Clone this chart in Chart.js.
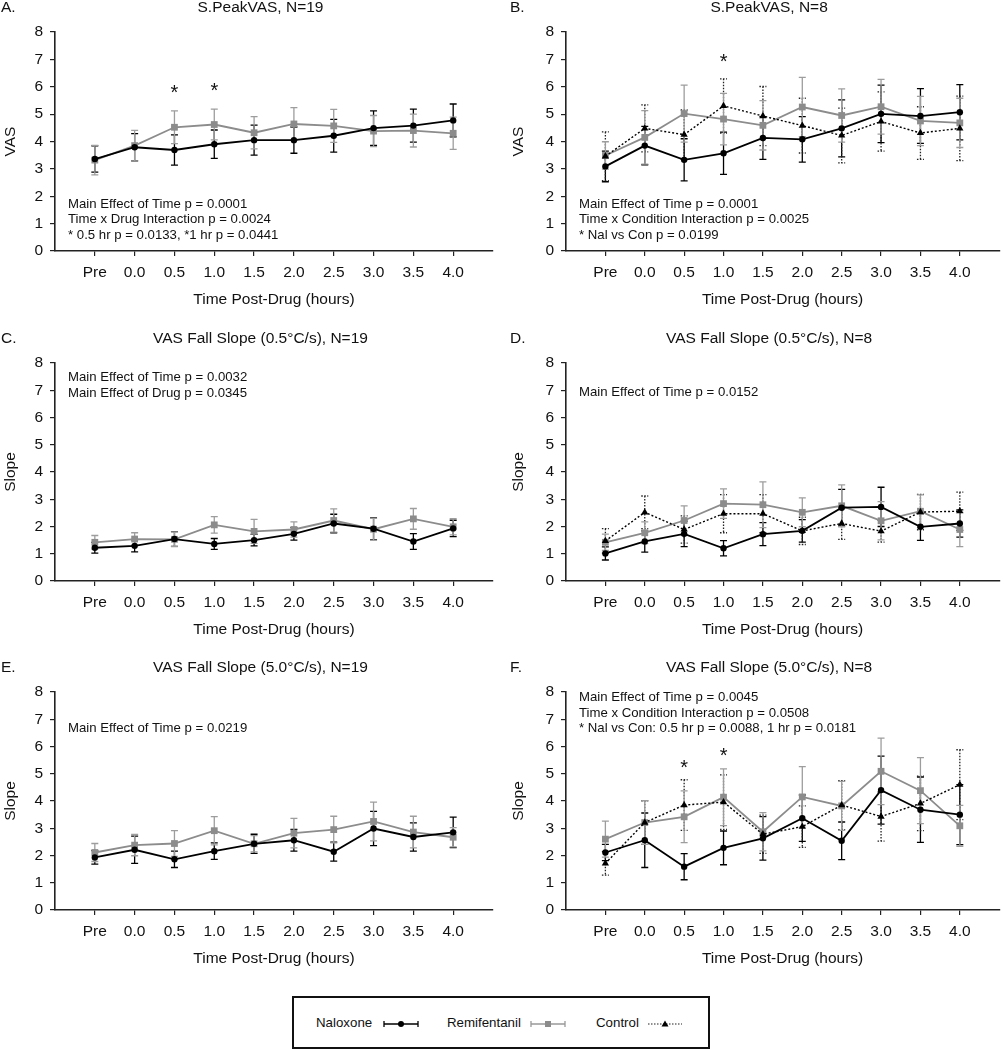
<!DOCTYPE html>
<html>
<head>
<meta charset="utf-8">
<script src="https://cdn.jsdelivr.net/npm/chart.js@4.4.1/dist/chart.umd.min.js"></script>
<style>
  body { margin: 0; background: #fff; width: 1004px; height: 1050px; position: relative; overflow: hidden;
         font-family: "Liberation Sans", Arial, sans-serif; }
  canvas.panel { position: absolute; }
  #legend { position: absolute; left: 292px; top: 996px; width: 418px; height: 53px; box-sizing: border-box;
            border: 2px solid #111; }
  #legend span { position: absolute; top: 17px; font-size: 13.3px; color: #111; line-height: 16px; }
  #legend svg { position: absolute; top: 21px; }
</style>
</head>
<body>
<canvas class="panel" id="pA" width="502" height="320" style="left:0;top:0"></canvas>
<canvas class="panel" id="pB" width="502" height="320" style="left:502px;top:0"></canvas>
<canvas class="panel" id="pC" width="502" height="330" style="left:0;top:320px"></canvas>
<canvas class="panel" id="pD" width="502" height="330" style="left:502px;top:320px"></canvas>
<canvas class="panel" id="pE" width="502" height="340" style="left:0;top:650px"></canvas>
<canvas class="panel" id="pF" width="502" height="340" style="left:502px;top:650px"></canvas>

<div id="legend">
  <span style="left:22px">Naloxone</span>
  <svg style="left:89px" width="36" height="10">
    <line x1="1" y1="5" x2="35" y2="5" stroke="#000" stroke-width="1.3"/>
    <line x1="1" y1="2" x2="1" y2="8" stroke="#000" stroke-width="1.3"/>
    <line x1="35" y1="2" x2="35" y2="8" stroke="#000" stroke-width="1.3"/>
    <circle cx="18" cy="5" r="3" fill="#000"/>
  </svg>
  <span style="left:153px">Remifentanil</span>
  <svg style="left:236px" width="36" height="10">
    <line x1="1" y1="5" x2="35" y2="5" stroke="#999" stroke-width="1.3"/>
    <line x1="1" y1="2" x2="1" y2="8" stroke="#999" stroke-width="1.3"/>
    <line x1="35" y1="2" x2="35" y2="8" stroke="#999" stroke-width="1.3"/>
    <rect x="15" y="2" width="6" height="6" fill="#8c8c8c"/>
  </svg>
  <span style="left:302px">Control</span>
  <svg style="left:353px" width="36" height="10">
    <line x1="1" y1="5" x2="35" y2="5" stroke="#222" stroke-width="1.2" stroke-dasharray="1.5,1.5"/>
    <polygon points="18,1.5 21.5,7.5 14.5,7.5" fill="#000"/>
  </svg>
</div>

<script>
// time points (x axis)
const hours = ['Pre', '0.0', '0.5', '1.0', '1.5', '2.0', '2.5', '3.0', '3.5', '4.0'];

// A. S.PeakVAS, N=19
const aNal    = [3.36, 3.79, 3.69, 3.90, 4.05, 4.05, 4.21, 4.49, 4.58, 4.77];
const aNalErr = [0.48, 0.50, 0.55, 0.52, 0.55, 0.48, 0.60, 0.63, 0.60, 0.60];
const aRem    = [3.32, 3.85, 4.52, 4.62, 4.32, 4.64, 4.57, 4.38, 4.40, 4.30];
const aRemErr = [0.54, 0.56, 0.60, 0.56, 0.59, 0.60, 0.60, 0.57, 0.60, 0.59];
const aStars  = [[2, 5.95], [3, 6.03]];

// B. S.PeakVAS, N=8
const bNal    = [3.09, 3.85, 3.33, 3.57, 4.13, 4.08, 4.48, 5.01, 4.93, 5.07];
const bNalErr = [0.56, 0.70, 0.77, 0.77, 0.78, 0.83, 1.04, 1.05, 1.00, 1.01];
const bRem    = [3.49, 4.15, 5.02, 4.82, 4.59, 5.26, 4.95, 5.27, 4.75, 4.68];
const bRemErr = [0.50, 0.98, 1.04, 0.94, 0.90, 1.08, 0.97, 1.00, 0.90, 0.90];
const bCon    = [3.46, 4.48, 4.25, 5.30, 4.93, 4.58, 4.22, 4.73, 4.31, 4.48];
const bConErr = [0.89, 0.86, 0.90, 0.99, 1.08, 1.00, 1.00, 1.08, 0.96, 1.18];
const bStars  = [[3, 7.1]];

// C. VAS Fall Slope (0.5°C/s), N=19
const cNal    = [1.22, 1.29, 1.54, 1.36, 1.50, 1.73, 2.11, 1.92, 1.45, 1.93];
const cNalErr = [0.20, 0.22, 0.27, 0.20, 0.21, 0.23, 0.34, 0.40, 0.29, 0.30];
const cRem    = [1.42, 1.54, 1.53, 2.06, 1.82, 1.89, 2.22, 1.90, 2.28, 1.99];
const cRemErr = [0.25, 0.23, 0.27, 0.30, 0.44, 0.28, 0.43, 0.40, 0.38, 0.30];

// D. VAS Fall Slope (0.5°C/s), N=8
const dNal    = [1.01, 1.45, 1.73, 1.20, 1.72, 1.84, 2.69, 2.72, 1.99, 2.11];
const dNalErr = [0.24, 0.39, 0.47, 0.28, 0.42, 0.41, 0.67, 0.72, 0.50, 0.50];
const dRem    = [1.42, 1.77, 2.22, 2.84, 2.80, 2.52, 2.76, 2.21, 2.56, 1.89];
const dRemErr = [0.30, 0.40, 0.54, 0.54, 0.84, 0.53, 0.77, 0.70, 0.60, 0.63];
const dCon    = [1.47, 2.52, 1.89, 2.47, 2.47, 1.84, 2.11, 1.83, 2.53, 2.56];
const dConErr = [0.45, 0.60, 0.50, 0.70, 0.70, 0.50, 0.58, 0.40, 0.65, 0.70];

// E. VAS Fall Slope (5.0°C/s), N=19
const eNal    = [1.93, 2.21, 1.86, 2.16, 2.43, 2.56, 2.14, 2.99, 2.68, 2.85];
const eNalErr = [0.25, 0.50, 0.30, 0.30, 0.35, 0.40, 0.35, 0.63, 0.52, 0.56];
const eRem    = [2.11, 2.38, 2.44, 2.91, 2.43, 2.82, 2.95, 3.25, 2.86, 2.67];
const eRemErr = [0.33, 0.39, 0.47, 0.52, 0.30, 0.54, 0.49, 0.71, 0.58, 0.35];

// F. VAS Fall Slope (5.0°C/s), N=8
const fNal    = [2.11, 2.56, 1.59, 2.28, 2.63, 3.37, 2.54, 4.40, 3.68, 3.50];
const fNalErr = [0.30, 1.00, 0.48, 0.62, 0.80, 0.85, 0.69, 1.25, 1.20, 1.10];
const fRem    = [2.60, 3.21, 3.42, 4.14, 2.87, 4.15, 3.82, 5.09, 4.38, 3.09];
const fRemErr = [0.66, 0.80, 0.95, 1.04, 0.70, 1.11, 0.90, 1.22, 1.21, 0.75];
const fCon    = [1.71, 3.21, 3.85, 3.96, 2.78, 3.06, 3.85, 3.43, 3.91, 4.60];
const fConErr = [0.43, 0.80, 0.93, 1.00, 0.70, 0.76, 0.90, 0.90, 1.00, 1.28];
const fStars  = [[2, 5.4], [3, 5.84]];

const FONT = '"Liberation Sans", Arial, sans-serif';
Chart.defaults.font.family = FONT;
Chart.defaults.color = '#111';

const STYLE = {
  Naloxone:     { color: '#000',    err: '#000',    dash: [],     point: 'circle',   r: 3.2, w: 1.8 },
  Remifentanil: { color: '#8c8c8c', err: '#9d9d9d', dash: [],     point: 'rect',     r: 4.8, w: 1.8 },
  Control:      { color: '#000',    err: '#222',    dash: [2, 2], point: 'triangle', r: 4.2, w: 1.4 }
};

// vertical mean +/- error bars with caps, drawn under the lines
const errorBars = {
  id: 'errorBars',
  beforeDatasetsDraw(chart) {
    const { ctx, scales: { x, y } } = chart;
    chart.data.datasets.forEach(ds => {
      const st = STYLE[ds.label];
      ctx.save();
      ctx.strokeStyle = st.err;
      ctx.lineWidth = 1.3;
      ctx.setLineDash(st.dash.length ? [1.5, 1.5] : []);
      ds.data.forEach((p, i) => {
        const e = ds.errors[i];
        const px = x.getPixelForValue(p.x);
        const top = y.getPixelForValue(p.y + e);
        const bot = y.getPixelForValue(p.y - e);
        ctx.beginPath();
        ctx.moveTo(px, top); ctx.lineTo(px, bot);
        ctx.moveTo(px - 3.5, top); ctx.lineTo(px + 3.5, top);
        ctx.moveTo(px - 3.5, bot); ctx.lineTo(px + 3.5, bot);
        ctx.stroke();
      });
      ctx.restore();
    });
  }
};

// panel letter, title, statistics notes and asterisks
const panelText = {
  id: 'panelText',
  afterDraw(chart, args, o) {
    const { ctx, chartArea, scales: { x, y } } = chart;
    const ty = chartArea.top - 24.5;
    ctx.save();
    ctx.fillStyle = '#111';
    ctx.textBaseline = 'middle';
    ctx.font = '15.5px ' + FONT;
    ctx.textAlign = 'left';
    ctx.fillText(o.letter, o.letterX, ty);
    ctx.textAlign = 'center';
    ctx.fillText(o.title, (chartArea.left + chartArea.right) / 2 - 13.5, ty);

    ctx.font = '13.2px ' + FONT;
    ctx.textAlign = 'left';
    const y0 = y.getPixelForValue(o.noteY);
    o.notes.forEach((t, i) => ctx.fillText(t, chartArea.left + 13, y0 + i * 15.5));

    ctx.font = '20px ' + FONT;
    ctx.textAlign = 'center';
    ctx.textBaseline = 'alphabetic';
    o.stars.forEach(s => ctx.fillText('*', x.getPixelForValue(s[0]), y.getPixelForValue(s[1]) + 11));
    ctx.restore();
  }
};

function series(label, vals, errs) {
  const st = STYLE[label];
  return {
    label,
    data: vals.map((v, i) => ({ x: i, y: v })),
    errors: errs,
    borderColor: st.color,
    backgroundColor: st.color,
    borderWidth: st.w,
    borderDash: st.dash,
    pointStyle: st.point,
    pointRadius: st.r,
    pointBorderWidth: 0,
    pointBackgroundColor: st.color,
    tension: 0,
    clip: false
  };
}

function makePanel(id, cfg) {
  const right = cfg.col === 1;
  const axisFont = { size: 15.5, family: FONT };
  return new Chart(document.getElementById(id), {
    type: 'line',
    data: { datasets: cfg.datasets },
    plugins: [errorBars, panelText],
    options: {
      responsive: false,
      animation: false,
      layout: { padding: { top: cfg.padTop, bottom: cfg.padBottom, left: 0, right: right ? 0 : 9 } },
      plugins: {
        legend: { display: false },
        tooltip: { enabled: false },
        panelText: {
          letter: cfg.letter,
          letterX: right ? 8 : 1,
          title: cfg.title,
          notes: cfg.notes,
          noteY: cfg.noteY,
          stars: cfg.stars || []
        }
      },
      scales: {
        x: {
          type: 'linear',
          min: -1,
          max: 10,
          afterBuildTicks: s => { s.ticks = hours.map((h, i) => ({ value: i })); },
          afterFit: s => { s.height = 58; },
          ticks: { callback: v => hours[v], autoSkip: false, maxRotation: 0, padding: 7, font: axisFont, color: '#111' },
          grid: { drawOnChartArea: false, drawTicks: true, tickLength: 5, color: '#222', lineWidth: 1.2 },
          border: { display: true, color: '#222', width: 1.6 },
          title: { display: true, text: 'Time Post-Drug (hours)', font: axisFont, color: '#111', padding: { top: 0, bottom: 0 } }
        },
        y: {
          min: 0,
          max: 8,
          afterFit: s => { s.width = right ? 64 : 55; },
          ticks: { stepSize: 1, padding: 7, font: axisFont, color: '#111' },
          grid: { drawOnChartArea: false, drawTicks: true, tickLength: 5, color: '#222', lineWidth: 1.2 },
          border: { display: true, color: '#222', width: 1.6 },
          title: { display: true, text: cfg.yTitle, font: axisFont, color: '#111', padding: { top: right ? 7 : 1, bottom: 0 } }
        }
      }
    }
  });
}

makePanel('pA', {
  col: 0, padTop: 32, padBottom: 11, letter: 'A.', title: 'S.PeakVAS, N=19', yTitle: 'VAS',
  notes: ['Main Effect of Time p = 0.0001', 'Time x Drug Interaction p = 0.0024', '* 0.5 hr p = 0.0133, *1 hr p = 0.0441'],
  noteY: 1.72, stars: aStars,
  datasets: [series('Naloxone', aNal, aNalErr), series('Remifentanil', aRem, aRemErr)]
});
makePanel('pB', {
  col: 1, padTop: 32, padBottom: 11, letter: 'B.', title: 'S.PeakVAS, N=8', yTitle: 'VAS',
  notes: ['Main Effect of Time p = 0.0001', 'Time x Condition Interaction p = 0.0025', '* Nal vs Con p = 0.0199'],
  noteY: 1.72, stars: bStars,
  datasets: [series('Naloxone', bNal, bNalErr), series('Control', bCon, bConErr), series('Remifentanil', bRem, bRemErr)]
});
makePanel('pC', {
  col: 0, padTop: 43, padBottom: 11, letter: 'C.', title: 'VAS Fall Slope (0.5°C/s), N=19', yTitle: 'Slope',
  notes: ['Main Effect of Time p = 0.0032', 'Main Effect of Drug p = 0.0345'],
  noteY: 7.47,
  datasets: [series('Naloxone', cNal, cNalErr), series('Remifentanil', cRem, cRemErr)]
});
makePanel('pD', {
  col: 1, padTop: 43, padBottom: 11, letter: 'D.', title: 'VAS Fall Slope (0.5°C/s), N=8', yTitle: 'Slope',
  notes: ['Main Effect of Time p = 0.0152'],
  noteY: 6.91,
  datasets: [series('Naloxone', dNal, dNalErr), series('Control', dCon, dConErr), series('Remifentanil', dRem, dRemErr)]
});
makePanel('pE', {
  col: 0, padTop: 42, padBottom: 22, letter: 'E.', title: 'VAS Fall Slope (5.0°C/s), N=19', yTitle: 'Slope',
  notes: ['Main Effect of Time p = 0.0219'],
  noteY: 6.65,
  datasets: [series('Naloxone', eNal, eNalErr), series('Remifentanil', eRem, eRemErr)]
});
makePanel('pF', {
  col: 1, padTop: 42, padBottom: 22, letter: 'F.', title: 'VAS Fall Slope (5.0°C/s), N=8', yTitle: 'Slope',
  notes: ['Main Effect of Time p = 0.0045', 'Time x Condition Interaction p = 0.0508', '* Nal vs Con: 0.5 hr p = 0.0088, 1 hr p = 0.0181'],
  noteY: 7.79, stars: fStars,
  datasets: [series('Naloxone', fNal, fNalErr), series('Control', fCon, fConErr), series('Remifentanil', fRem, fRemErr)]
});
</script>
</body>
</html>
